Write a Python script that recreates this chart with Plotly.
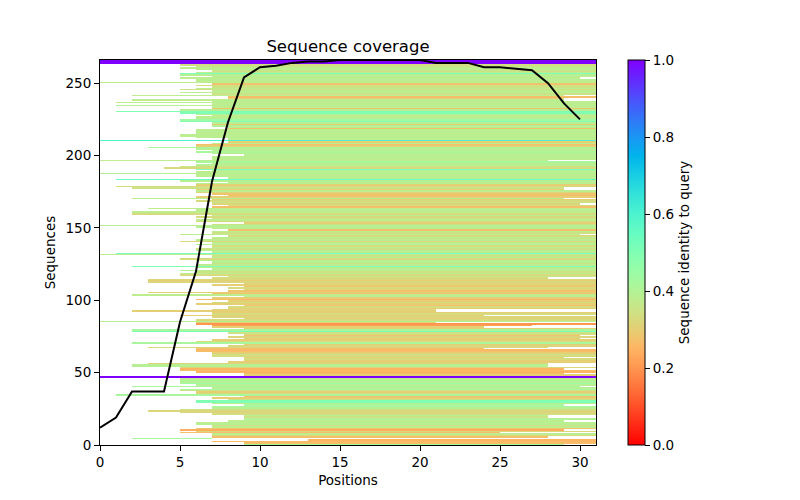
import numpy as np
import plotly.graph_objects as go

# coverage of the alignment (black line), one value per position
positions = list(range(31))
coverage = [12, 19, 37, 37, 37, 85, 120, 182, 223, 254, 261, 262, 264, 265, 265,
            266, 266, 266, 266, 266, 266, 264, 264, 264, 261, 261, 260, 259, 250, 236, 225]

# one entry per sequence (row 0 at the bottom): first covered position, end (exclusive), identity
row_start = [
    9, 9, 7, 13, 2, 7, 7, 7, 5, 6,
    5, 6, 7, 7, 6, 6, 8, 9, 9, 9,
    9, 7, 5, 3, 5, 7, 7, 9, 7, 6,
    6, 8, 7, 9, 1, 6, 6, 5, 5, 7,
    2, 6, 5, 5, 5, 5, 0, 0, 9, 9,
    6, 5, 5, 5, 2, 2, 3, 8, 9, 9,
    9, 7, 7, 7, 6, 6, 6, 3, 8, 9,
    2, 6, 7, 9, 8, 9, 9, 8, 2, 2,
    9, 7, 7, 6, 6, 0, 6, 9, 7, 5,
    7, 7, 2, 7, 8, 8, 9, 6, 7, 8,
    6, 7, 9, 2, 7, 3, 8, 9, 8, 9,
    7, 9, 3, 3, 3, 7, 8, 5, 5, 6,
    5, 7, 6, 2, 6, 7, 7, 6, 5, 7,
    7, 0, 1, 7, 6, 6, 7, 7, 6, 7,
    5, 6, 7, 7, 8, 5, 7, 7, 8, 7,
    6, 0, 7, 9, 6, 6, 7, 6, 7, 2,
    2, 2, 6, 3, 7, 8, 7, 7, 6, 7,
    2, 6, 8, 7, 6, 6, 6, 2, 1, 6,
    6, 8, 5, 1, 8, 6, 6, 0, 6, 7,
    6, 4, 5, 6, 7, 6, 0, 7, 7, 7,
    9, 7, 6, 7, 6, 3, 6, 6, 7, 8,
    0, 8, 6, 5, 5, 6, 6, 6, 8, 8,
    7, 7, 7, 5, 5, 6, 6, 7, 6, 5,
    1, 5, 7, 7, 1, 7, 1, 7, 2, 8,
    8, 2, 7, 5, 7, 5, 6, 7, 6, 7,
    0, 6, 6, 5, 7, 5, 5, 6, 7, 6,
    5, 6, 5, 0, 0, 0,
]
row_end = [
    29, 31, 31, 31, 7, 28, 31, 31, 25, 31,
    29, 31, 31, 31, 31, 31, 29, 31, 31, 28,
    28, 31, 31, 31, 31, 31, 31, 29, 31, 31,
    31, 31, 31, 31, 31, 31, 31, 31, 31, 31,
    30, 31, 31, 31, 31, 31, 31, 31, 31, 29,
    31, 31, 29, 31, 28, 28, 28, 31, 31, 31,
    29, 31, 31, 31, 31, 31, 24, 28, 31, 31,
    31, 31, 31, 30, 31, 30, 31, 31, 31, 31,
    31, 24, 27, 31, 21, 31, 31, 31, 31, 24,
    31, 31, 21, 21, 31, 31, 31, 31, 31, 31,
    31, 31, 31, 31, 31, 31, 31, 31, 31, 31,
    31, 31, 31, 31, 31, 28, 31, 31, 31, 31,
    31, 31, 31, 31, 31, 31, 31, 31, 31, 31,
    31, 31, 31, 31, 31, 31, 31, 31, 31, 31,
    31, 31, 31, 31, 31, 30, 31, 31, 31, 31,
    31, 31, 31, 31, 31, 31, 31, 31, 31, 31,
    31, 31, 31, 31, 31, 31, 30, 31, 31, 31,
    29, 31, 31, 31, 31, 31, 29, 29, 31, 31,
    31, 31, 31, 31, 31, 31, 31, 31, 31, 31,
    31, 31, 31, 31, 31, 31, 28, 31, 31, 31,
    31, 31, 31, 31, 31, 31, 31, 31, 31, 31,
    31, 31, 31, 31, 31, 31, 31, 31, 31, 31,
    31, 31, 31, 31, 31, 31, 31, 31, 31, 31,
    31, 31, 31, 31, 31, 31, 31, 31, 29, 29,
    31, 29, 31, 31, 31, 31, 31, 31, 31, 31,
    31, 31, 31, 30, 31, 31, 31, 31, 31, 31,
    31, 31, 31, 31, 31, 31,
]
row_ident = [
    .42, .27, .26, .25, .42, .27, .33, .38, .27, .32,
    .24, .28, .38, .35, .39, .38, .38, .42, .38, .35,
    .39, .33, .32, .32, .35, .39, .42, .42, .39, .50,
    .50, .35, .30, .27, .42, .33, .30, .35, .42, .39,
    .42, .39, .44, .39, .42, .38, 1.0, 1.0, .30, .27,
    .25, .27, .25, .32, .39, .39, .32, .30, .30, .33,
    .30, .33, .35, .30, .27, .26, .27, .32, .32, .30,
    .42, .33, .30, .30, .32, .28, .33, .35, .50, .42,
    .30, .30, .22, .20, .30, .39, .33, .30, .32, .30,
    .33, .30, .30, .32, .30, .33, .28, .30, .33, .30,
    .26, .30, .39, .38, .28, .30, .28, .30, .33, .28,
    .30, .32, .32, .30, .32, .33, .35, .33, .38, .35,
    .39, .38, .39, .50, .38, .35, .39, .38, .33, .38,
    .35, .38, .52, .38, .39, .35, .38, .33, .39, .38,
    .32, .38, .35, .39, .33, .38, .35, .38, .27, .38,
    .39, .39, .35, .30, .33, .38, .35, .33, .38, .33,
    .38, .38, .38, .38, .27, .33, .32, .35, .33, .30,
    .38, .30, .27, .28, .32, .38, .30, .35, .33, .30,
    .39, .38, .39, .55, .38, .39, .38, .39, .38, .42,
    .50, .33, .35, .39, .38, .42, .38, .38, .39, .38,
    .39, .38, .42, .38, .39, .42, .30, .27, .38, .30,
    .60, .38, .39, .38, .39, .38, .39, .38, .28, .38,
    .39, .30, .39, .50, .44, .39, .38, .38, .39, .50,
    .50, .39, .28, .38, .39, .38, .38, .39, .38, .30,
    .27, .38, .35, .38, .38, .34, .38, .35, .34, .28,
    .38, .38, .39, .38, .38, .39, .50, .38, .35, .38,
    .38, .35, .34, 1.0, 1.0, 1.0,
]

n_rows = len(row_start)
n_cols = len(positions)

# gaps stay NaN (white), covered positions get the sequence identity
z = np.full((n_rows, n_cols), np.nan)
for i in range(n_rows):
    z[i, row_start[i]:row_end[i]] = row_ident[i]

# matplotlib "rainbow_r"
stops = np.linspace(0, 1, 21)
rainbow_r = []
for v in stops:
    t = 1 - v
    r = min(max(abs(2 * t - 0.5), 0), 1)
    g = np.sin(np.pi * t)
    b = np.cos(np.pi * t / 2)
    rainbow_r.append([float(v), "rgb({:d},{:d},{:d})".format(int(round(r * 255)), int(round(max(g, 0) * 255)), int(round(max(b, 0) * 255)))])

font = "DejaVu Sans"
tick_font = dict(family=font, size=13.5, color="black")

fig = go.Figure()
fig.add_trace(go.Heatmap(
    z=z,
    x=list(range(n_cols + 1)),
    y=list(range(n_rows + 1)),
    colorscale=rainbow_r,
    zmin=0, zmax=1,
    hoverongaps=False,
    colorbar=dict(
        x=1.0645, xanchor="left", xref="paper", xpad=0,
        y=0.5, yanchor="middle", len=1.0, lenmode="fraction", ypad=0,
        thickness=17, outlinewidth=1, outlinecolor="black",
        ticks="outside", ticklen=5, tickcolor="black",
        tickvals=[0, 0.2, 0.4, 0.6, 0.8, 1.0], tickformat=".1f",
        tickfont=tick_font,
        title=dict(text="Sequence identity to query", side="right", font=tick_font),
    ),
))
fig.add_trace(go.Scatter(
    x=positions, y=coverage, mode="lines",
    line=dict(color="black", width=2), showlegend=False,
))

# the page body adds 8px on the left and top, margins make up for it
fig.update_layout(
    width=800, height=500,
    margin=dict(l=92, r=212, t=52, b=63),
    paper_bgcolor="white", plot_bgcolor="white",
    font=tick_font,
    title=dict(text="Sequence coverage", x=0.5, xref="paper", xanchor="center",
               y=1 - 38 / 500, yref="container", yanchor="middle",
               font=dict(family=font, size=16.5, color="black")),
    showlegend=False,
)
fig.update_xaxes(
    range=[0, n_cols], tickvals=[0, 5, 10, 15, 20, 25, 30], tickfont=tick_font,
    showgrid=False, zeroline=False, showline=True, mirror=True, linecolor="black", linewidth=1,
    ticks="outside", ticklen=5, tickcolor="black",
    title=dict(text="Positions", standoff=6, font=tick_font),
)
fig.update_yaxes(
    range=[0, n_rows], tickvals=[0, 50, 100, 150, 200, 250], tickfont=tick_font,
    showgrid=False, zeroline=False, showline=True, mirror=True, linecolor="black", linewidth=1,
    ticks="outside", ticklen=5, tickcolor="black",
    title=dict(text="Sequences", standoff=6, font=tick_font),
)

fig.write_html("out.html")
